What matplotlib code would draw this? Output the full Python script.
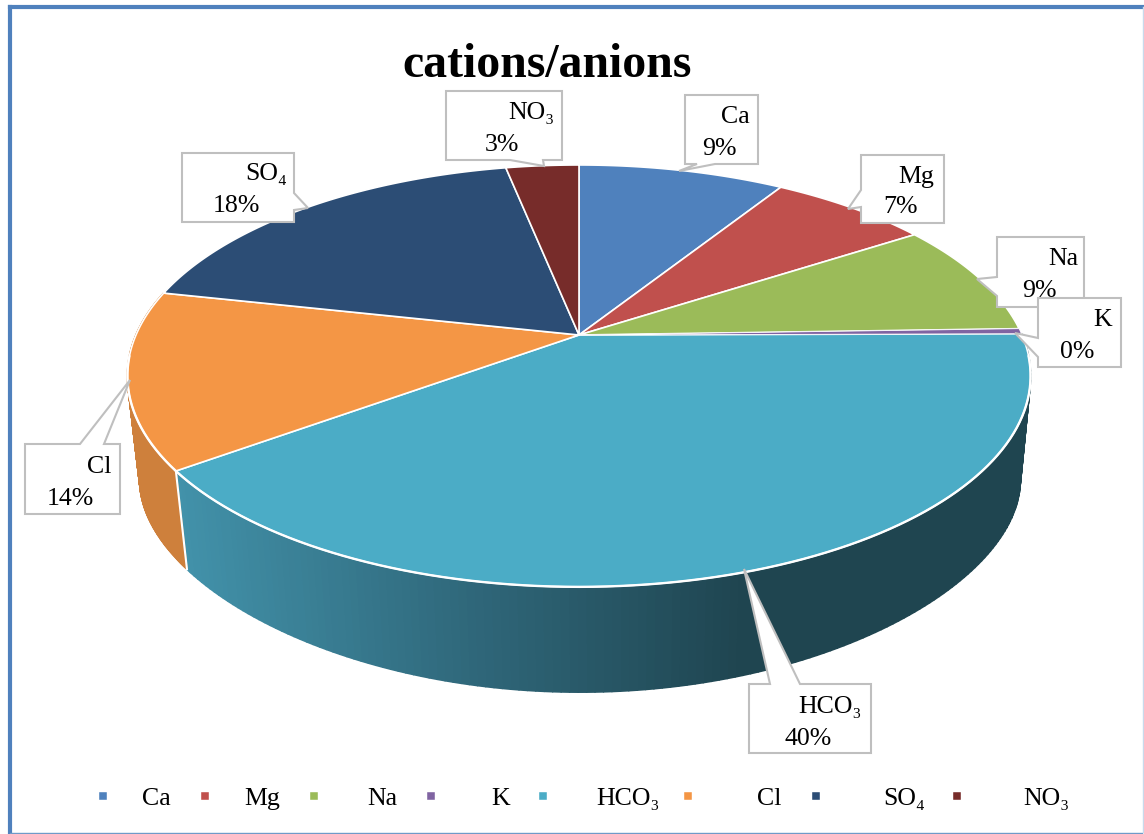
import numpy as np
import matplotlib
matplotlib.use("Agg")
import matplotlib.pyplot as plt
from matplotlib.collections import PolyCollection
from matplotlib.colors import LinearSegmentedColormap
from matplotlib.patches import Polygon

plt.rcParams['font.family'] = ['Liberation Serif', 'DejaVu Serif']

names = ['Ca', 'Mg', 'Na', 'K', 'HCO₃', 'Cl', 'SO₄', 'NO₃']
values = [8.9, 6.9, 8.7, 0.4, 40.0, 13.55, 18.4, 3.15]
colors = ['#4F81BD', '#C0504D', '#9BBB59', '#8064A2', '#4BACC6', '#F49645', '#2C4D75', '#772C2A']
wall_colors = ['#3B6390', '#92403D', '#76903F', '#614C7C', '#1F4550', '#CE803C', '#213A58', '#5A2120']

# perspective of the pie top, pixels of the 1144x834 picture
CX, CY = 579, 335
A, B, K = 443, 203, 0.194
# bottom rim of the wall
WALL_X, WALL_SX = 580, 0.975
WALL_Y, WALL_B, WALL_K = 444, 173.7, 0.3

# box x0, y0, x1, y1, side of the pointer, pointer points, name right/y, percent right/y
callouts = [
    ((685, 95, 758, 164), 'bottom', [(697, 164), (679, 171), (715, 164)], (750, 117), (737, 149)),
    ((861, 155, 944, 223), 'left', [(861, 190), (848, 209), (861, 207)], (934, 177), (918, 207)),
    ((997, 237, 1084, 307), 'left', [(997, 277), (977, 279), (997, 296)], (1078, 259), (1057, 291)),
    ((1038, 298, 1121, 367), 'left', [(1038, 338), (1015, 333), (1038, 357)], (1112, 320), (1094, 352)),
    ((749, 684, 871, 753), 'top', [(770, 684), (744, 569), (800, 684)], (862, 707), (832, 739)),
    ((25, 444, 120, 514), 'top', [(80, 444), (130, 380), (104, 444)], (111, 467), (94, 499)),
    ((182, 153, 294, 222), 'right', [(294, 193), (308, 208), (294, 210)], (287, 174), (260, 206)),
    ((446, 91, 562, 160), 'bottom', [(510, 160), (544, 166), (543, 160)], (554, 113), (519, 145)),
]
legend_marks = [103, 205, 314, 431, 543, 688, 816, 957]
legend_text = [142, 244, 367, 491, 596, 757, 883, 1023]


def rim(t):
    """top rim point for a clockwise angle t (radians) from the back of the pie"""
    u, v = np.sin(t), np.cos(t)
    d = 1 + K * v
    return CX + A * u / d, CY - B * v / d


def wall_rim(t):
    x, _ = rim(t)
    v = np.cos(t)
    return WALL_X + WALL_SX * (x - CX), WALL_Y - WALL_B * v / (1 + WALL_K * v)


def callout_path(box, side, pts):
    x0, y0, x1, y1 = box
    top = pts if side == 'top' else []
    right = pts if side == 'right' else []
    bottom = pts if side == 'bottom' else []
    left = pts if side == 'left' else []
    return [(x0, y0)] + top + [(x1, y0)] + right + [(x1, y1)] + bottom[::-1] + [(x0, y1)] + left[::-1]


fig = plt.figure(figsize=(11.44, 8.34), dpi=100, facecolor='white')
ax = fig.add_axes([0, 0, 1, 1])
ax.set_xlim(0, 1144)
ax.set_ylim(834, 0)
ax.axis('off')

# frame
ax.plot([10, 10], [832, 7], color='#4F81BD', lw=3.0, solid_capstyle='projecting', zorder=1)
ax.plot([10, 1143], [7, 7], color='#4F81BD', lw=3.0, solid_capstyle='projecting', zorder=1)
ax.plot([10, 1142], [832.5, 832.5], color='#6F9AC8', lw=1.0, zorder=1)
ax.plot([1143, 1143], [7, 832], color='#C9DAEC', lw=1.0, zorder=1)

edges = np.cumsum([0] + values) / sum(values) * 2 * np.pi

# shading of the large wall, from the front left corner, flat after the label
shade = LinearSegmentedColormap.from_list('wall', ['#4292AA', '#30697C', '#1F4550'])

# walls first, only the slices facing the viewer, as thin quads so the silhouette stays full
for i in range(len(values)):
    if np.cos((edges[i] + edges[i + 1]) / 2) >= 0:
        continue
    t = np.linspace(edges[i], edges[i + 1], 160)
    top_x, top_y = rim(t)
    bot_x, bot_y = wall_rim(t)
    quads = [[(top_x[j], top_y[j]), (top_x[j + 1], top_y[j + 1]), (bot_x[j + 1], bot_y[j + 1]), (bot_x[j], bot_y[j])]
             for j in range(len(t) - 1)]
    if names[i] == 'HCO₃':
        quad_colors = shade(np.clip((bot_x[:-1] - 187) / (745 - 187), 0, 1))
    else:
        quad_colors = wall_colors[i]
    ax.add_collection(PolyCollection(quads, facecolors=quad_colors, edgecolors=quad_colors, linewidths=1.2, zorder=2))

# white edge between the two visible walls
corner = edges[5]
ax.plot(*zip(rim(corner), wall_rim(corner)), color='white', lw=1.5, zorder=2.5)

# top faces, the thin K slice last so its white neighbours do not eat it
for i in sorted(range(len(values)), key=lambda n: names[n] == 'K'):
    t = np.linspace(edges[i], edges[i + 1], 200)
    x, y = rim(t)
    pts = np.column_stack([np.r_[CX, x], np.r_[CY, y]])
    lw = 0.6 if names[i] == 'K' else 1.2
    ax.add_patch(Polygon(pts, closed=True, facecolor=colors[i], edgecolor='white', lw=lw,
                         joinstyle='round', zorder=3))

# heavier white along the front of the rim
t = np.linspace(edges[4], edges[6], 400)
t = t[np.cos(t) < -0.1]
ax.plot(*rim(t), color='white', lw=1.7, zorder=3.2)

ax.text(547, 65, 'cations/anions', ha='center', va='center', fontsize=34.4, fontweight='bold', color='black', zorder=6)

# data labels
for i, (box, side, pts, name_pos, pct_pos) in enumerate(callouts):
    ax.add_patch(Polygon(callout_path(box, side, pts), closed=True, facecolor='white',
                         edgecolor='#BFBFBF', lw=1.5, zorder=4 + i * 0.1))
    ax.text(name_pos[0], name_pos[1], names[i], ha='right', va='center', fontsize=18.6, zorder=4.05 + i * 0.1)
    ax.text(pct_pos[0], pct_pos[1], f'{round(values[i])}%', ha='right', va='center', fontsize=18.6,
            zorder=4.05 + i * 0.1)

# legend
for i in range(len(names)):
    ax.plot(legend_marks[i], 796, marker='s', ms=6, color=colors[i], mec='white', mew=0.3, zorder=5)
    ax.text(legend_text[i], 799, names[i], ha='left', va='center', fontsize=18.6, zorder=5)

fig.savefig('out.png', dpi=100)
